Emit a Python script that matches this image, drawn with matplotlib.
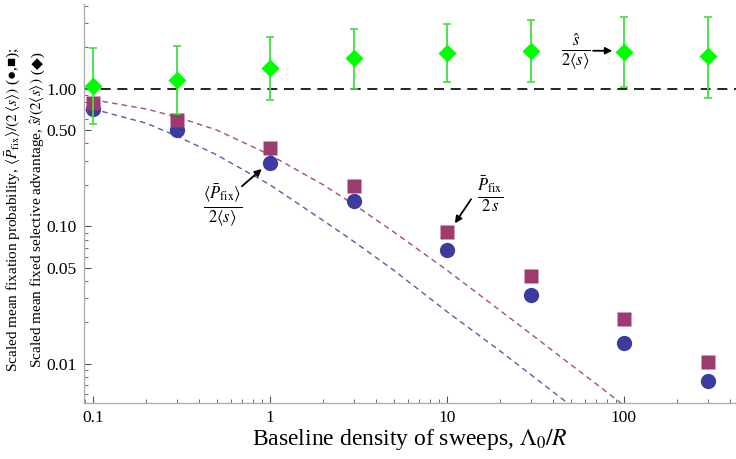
import numpy as np
import matplotlib
matplotlib.use("Agg")
import matplotlib.pyplot as plt
from matplotlib.ticker import FixedLocator, FixedFormatter, NullFormatter

plt.rcParams['font.family'] = ['Liberation Serif', 'DejaVu Serif', 'DejaVu Sans']
plt.rcParams['mathtext.fontset'] = 'stix'

# sweep densities
dens = [0.1, 0.3, 1, 3, 10, 30, 100, 300]

# scaled mean fixation probability (circles) and P_fix/2s (squares)
p_circ = [0.71, 0.50, 0.29, 0.153, 0.067, 0.0316, 0.0143, 0.0075]
p_sq = [0.78, 0.59, 0.37, 0.197, 0.091, 0.0434, 0.0213, 0.0103]

# scaled fixed selective advantage (diamonds) with error bar ends
s_hat = [1.05, 1.16, 1.40, 1.66, 1.82, 1.88, 1.85, 1.71]
s_hi = [1.98, 2.04, 2.38, 2.71, 2.92, 3.15, 3.32, 3.32]
s_lo = [0.55, 0.65, 0.82, 1.00, 1.11, 1.12, 1.02, 0.86]

# dashed theory curves
cx = [0.1, 0.2, 0.3, 0.5, 1, 2, 3, 5, 10, 20, 30, 50, 60, 100, 120]
c_blue = [0.71, 0.56, 0.45, 0.33, 0.20, 0.11, 0.077, 0.048, 0.024, 0.0124,
          0.0083, 0.005, 0.0042, 0.0025, 0.0021]
c_red = [0.83, 0.71, 0.62, 0.50, 0.33, 0.20, 0.143, 0.091, 0.048, 0.0244,
         0.0164, 0.0099, 0.0083, 0.005, 0.0041]

W, H = 736, 459
fig = plt.figure(figsize=(W / 100, H / 100), dpi=100)
ax = fig.add_axes([0.114, 0.122, 0.886, 0.869])

ax.set_xscale('log')
ax.set_yscale('log')

ax.axhline(1.0, color='black', lw=1.2, dashes=(6, 4), zorder=1)
ax.plot(cx, c_blue, color='#5a5aa8', lw=1.0, dashes=(4, 3), zorder=1)
ax.plot(cx, c_red, color='#a4506e', lw=1.0, dashes=(4, 3), zorder=1)

ax.plot(dens, p_circ, 'o', color='#3b3ba0', ms=11, mec='none', zorder=3)
ax.plot(dens, p_sq, 's', color='#9e3b6e', ms=9.5, mec='none', zorder=4)

err = [np.array(s_hat) - np.array(s_lo), np.array(s_hi) - np.array(s_hat)]
ax.errorbar(dens, s_hat, yerr=err, fmt='D', color='#00ff00', ms=9,
            mec='none', ecolor='#3fe03f', elinewidth=1.3, capsize=3,
            capthick=1.2, zorder=5)

# annotations: text and arrows
arr = dict(arrowstyle='-|>', color='black', lw=1.3, shrinkA=0, shrinkB=0,
           mutation_scale=10)
ax.text(0.54, 0.14, r'$\frac{\langle\bar{P}_{\rm fix}\rangle}{2\langle s\rangle}$',
        fontsize=17, ha='center', va='center')
ax.annotate('', xy=(0.90, 0.26), xytext=(0.695, 0.195), arrowprops=arr)

ax.text(17.5, 0.17, r'$\frac{\bar{P}_{\rm fix}}{2\,s}$',
        fontsize=17, ha='center', va='center')
ax.annotate('', xy=(11.1, 0.105), xytext=(13.7, 0.157), arrowprops=arr)

ax.text(53.6, 1.86, r'$\frac{\hat{s}}{2\langle s\rangle}$',
        fontsize=17, ha='center', va='center')
ax.annotate('', xy=(86, 1.88), xytext=(67, 1.88), arrowprops=arr)

ax.set_xlim(0.089, 430)
ax.set_ylim(0.0052, 4.1)

ax.xaxis.set_major_locator(FixedLocator([0.1, 1, 10, 100]))
ax.xaxis.set_major_formatter(FixedFormatter(['0.1', '1', '10', '100']))
xminor = [m * 10.0 ** e for e in range(-2, 3) for m in range(2, 10)]
ax.xaxis.set_minor_locator(FixedLocator(xminor))
ax.xaxis.set_minor_formatter(NullFormatter())

ax.yaxis.set_major_locator(FixedLocator([0.01, 0.05, 0.1, 0.5, 1.0]))
ax.yaxis.set_major_formatter(FixedFormatter(['0.01', '0.05', '0.10', '0.50', '1.00']))
yminor = [m * 10.0 ** e for e in range(-3, 1) for m in range(2, 10)]
ax.yaxis.set_minor_locator(FixedLocator(yminor))
ax.yaxis.set_minor_formatter(NullFormatter())

for s in ['top', 'right']:
    ax.spines[s].set_visible(False)
for s in ['left', 'bottom']:
    ax.spines[s].set_color('#b0b0b0')
    ax.spines[s].set_linewidth(1.0)

ax.tick_params(which='major', direction='in', length=5, width=0.8,
               color='#555555', labelsize=12.5, pad=5)
ax.tick_params(which='minor', direction='in', length=3, width=0.6,
               color='#555555')

ax.set_xlabel(r'Baseline density of sweeps, $\Lambda_0/R$', fontsize=17, labelpad=1)

# y label: two rotated lines, the diamond glyph set apart (STIX has none)
yfs = 11
kw = dict(rotation=90, rotation_mode='anchor', ha='left', va='baseline',
          fontsize=yfs)
line1 = fig.text(0, 0, 'Scaled mean fixation probability, '
                 r'$\langle\bar{P}_{\rm fix}\rangle/(2\,\langle s\rangle)$ (●,■);', **kw)
line2a = fig.text(0, 0, 'Scaled mean fixed selective advantage, '
                  r'$\hat{s}/(2\langle s\rangle)$', **kw)
line2b = fig.text(0, 0, ' (◆)', family=['Liberation Serif', 'DejaVu Sans'], **kw)

fig.canvas.draw()
r = fig.canvas.get_renderer()
yc = H - 210
h1 = line1.get_window_extent(r).height
line1.set_position((18 / W, (yc - h1 / 2) / H))
ha_ = line2a.get_window_extent(r).height
hb_ = line2b.get_window_extent(r).height
y0 = yc - (ha_ + hb_) / 2
line2a.set_position((42 / W, y0 / H))
line2b.set_position((42 / W, (y0 + ha_) / H))

fig.savefig('out.png', dpi=100)
